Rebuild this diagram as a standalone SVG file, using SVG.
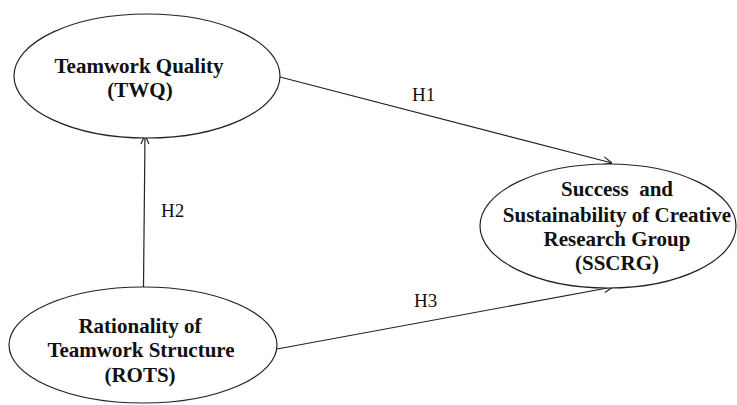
<svg xmlns="http://www.w3.org/2000/svg" width="737" height="405" viewBox="0 0 737 405">
<style>
.node ellipse{fill:#fff;stroke:#222;stroke-width:1.2}
.lbl{font-family:"Liberation Serif","Times New Roman",serif;font-weight:bold;font-size:21px;fill:#111;text-anchor:middle;white-space:pre}
.h{font-family:"Liberation Serif","Times New Roman",serif;font-size:19px;fill:#111}
.conn line{stroke:#222;stroke-width:1.2;fill:none}
</style>
<defs>
<marker id="arr" viewBox="0 0 10 10" refX="10" refY="5" markerWidth="10" markerHeight="10" markerUnits="userSpaceOnUse" orient="auto">
<path d="M1,1 L10,5 L1,9" fill="none" stroke="#222" stroke-width="1.2"/>
</marker>
</defs>
<rect width="737" height="405" fill="#fff"/>
<g id="connectors" class="conn">
<line x1="280" y1="77" x2="612" y2="163" marker-end="url(#arr)"/>
<line x1="143.5" y1="287" x2="145" y2="135" marker-end="url(#arr)"/>
<line x1="277" y1="349" x2="613" y2="287" marker-end="url(#arr)"/>
</g>
<g id="twq" class="node">
<ellipse cx="147" cy="76" rx="133" ry="62"/>
<text class="lbl" x="139" y="73">Teamwork Quality</text>
<text class="lbl" x="140" y="97">(TWQ)</text>
</g>
<g id="rots" class="node">
<ellipse cx="143" cy="345" rx="134" ry="58"/>
<text class="lbl" x="140" y="333">Rationality of</text>
<text class="lbl" x="141" y="357">Teamwork Structure</text>
<text class="lbl" x="140" y="382">(ROTS)</text>
</g>
<g id="sscrg" class="node">
<ellipse cx="608" cy="226" rx="128" ry="62"/>
<text class="lbl" x="617" y="196">Success  and</text>
<text class="lbl" x="617" y="222">Sustainability of Creative</text>
<text class="lbl" x="617" y="246">Research Group</text>
<text class="lbl" x="617" y="270">(SSCRG)</text>
</g>
<g id="labels">
<text class="h" x="412" y="101">H1</text>
<text class="h" x="161" y="217">H2</text>
<text class="h" x="414" y="307">H3</text>
</g>
</svg>
